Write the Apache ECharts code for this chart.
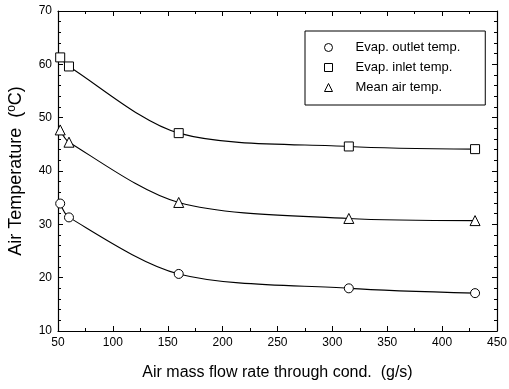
<!DOCTYPE html>
<html>
<head>
<meta charset="utf-8">
<script src="https://cdn.jsdelivr.net/npm/echarts@6/dist/echarts.min.js"></script>
<style>
    html, body { margin: 0; padding: 0; background: #fff; }
    #chart { width: 509px; height: 389px; }
</style>
</head>
<body>
<div id="chart"></div>
<script>
// air mass flow rate (g/s)
var flow = [52, 60, 160, 315, 430];
// temperatures (oC)
var outletTemp = [33.9, 31.3, 20.7, 18.0, 17.1];
var inletTemp = [61.3, 59.6, 47.1, 44.6, 44.1];
var meanTemp = [47.7, 45.4, 34.1, 31.1, 30.7];
var seriesNames = ['Evap. outlet temp.', 'Evap. inlet temp.', 'Mean air temp.'];

var pairs = function (ys) {
    return flow.map(function (x, i) { return [x, ys[i]]; });
};

var font = 'Liberation Sans, Arial, sans-serif';

var mychart = echarts.init(document.getElementById('chart'));

var makeSeries = function (name, symbol, ys) {
    return {
        name: name,
        type: 'line',
        smooth: 0.3,
        symbol: symbol,
        symbolSize: symbol === 'triangle' ? 10 : 9,
        showAllSymbol: true,
        lineStyle: { color: '#000', width: 1.1 },
        itemStyle: { color: '#fff', borderColor: '#000', borderWidth: 1 },
        emphasis: { disabled: true },
        z: 3,
        data: pairs(ys)
    };
};

var baseAxis = {
    type: 'value',
    axisLine: { show: true, lineStyle: { color: '#000', width: 1.2 } },
    axisTick: { show: true, inside: true, length: 5, lineStyle: { color: '#000' } },
    minorTick: { show: true, length: 3, lineStyle: { color: '#000' } },
    splitLine: { show: false },
    axisLabel: { color: '#000', fontFamily: font, fontSize: 12, margin: 6 }
};

var option = {
    animation: false,
    backgroundColor: '#fff',
    grid: { left: 58, right: 12, top: 11, bottom: 58, outerBoundsMode: 'none' },
    legend: {
        orient: 'vertical',
        left: 305,
        top: 31,
        padding: [10, 25, 11, 19],
        itemGap: 7,
        itemWidth: 8,
        itemHeight: 8,
        borderColor: '#000',
        borderWidth: 1,
        selectedMode: false,
        itemStyle: { color: '#fff', borderColor: '#000', borderWidth: 1 },
        textStyle: { color: '#000', fontFamily: font, fontSize: 13, padding: [0, 0, 0, 18] },
        data: [
            { name: seriesNames[0], icon: 'circle' },
            { name: seriesNames[1], icon: 'rect' },
            { name: seriesNames[2], icon: 'triangle' }
        ]
    },
    xAxis: [
        Object.assign({}, baseAxis, {
            min: 50, max: 450, interval: 50,
            minorTick: { show: true, splitNumber: 2, length: 3, lineStyle: { color: '#000' } },
            name: 'Air mass flow rate through cond.  (g/s)',
            nameLocation: 'middle',
            nameGap: 34,
            nameTextStyle: { color: '#000', fontFamily: font, fontSize: 16 }
        }),
        Object.assign({}, baseAxis, {
            position: 'top',
            min: 50, max: 450, interval: 50,
            minorTick: { show: true, splitNumber: 2, length: 3, lineStyle: { color: '#000' } },
            axisLabel: { show: false }
        })
    ],
    yAxis: [
        Object.assign({}, baseAxis, {
            min: 10, max: 70, interval: 10,
            minorTick: { show: true, splitNumber: 5, length: 3, lineStyle: { color: '#000' } },
            name: 'Air Temperature  ({sup|o}C)',
            nameLocation: 'middle',
            nameGap: 32,
            nameTextStyle: {
                color: '#000', fontFamily: font, fontSize: 18,
                rich: {
                    sup: { fontFamily: font, fontSize: 12, verticalAlign: 'top', padding: [0, 0, 8, 0] }
                }
            }
        }),
        Object.assign({}, baseAxis, {
            position: 'right',
            min: 10, max: 70, interval: 10,
            minorTick: { show: true, splitNumber: 5, length: 3, lineStyle: { color: '#000' } },
            axisLabel: { show: false }
        })
    ],
    series: [
        makeSeries(seriesNames[0], 'circle', outletTemp),
        makeSeries(seriesNames[1], 'rect', inletTemp),
        makeSeries(seriesNames[2], 'triangle', meanTemp)
    ]
};

mychart.setOption(option);
</script>
</body>
</html>
